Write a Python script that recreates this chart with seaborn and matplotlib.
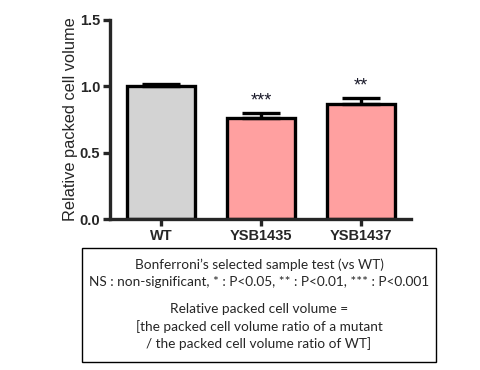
import pandas as pd
import matplotlib
matplotlib.use("Agg")
import matplotlib.pyplot as plt
import matplotlib.patches as mpatches
import seaborn as sns

# data
strains = ["WT", "YSB1435", "YSB1437"]
values = [1.00, 0.76, 0.87]
errors = [0.02, 0.04, 0.04]
stars = ["", "***", "**"]
bar_colors = ["#D3D3D3", "#FFA0A0", "#FFA0A0"]

sns.set_style("ticks")
plt.rcParams["font.family"] = ["Liberation Sans", "DejaVu Sans"]

df = pd.DataFrame({"Strain": strains, "Value": values})

fig = plt.figure(figsize=(4.8, 3.7), dpi=100)
ax = fig.add_axes([0.229, 0.408, 0.627, 0.538])

sns.barplot(data=df, x="Strain", y="Value", hue="Strain", palette=bar_colors,
            saturation=1, width=0.68, edgecolor="black", linewidth=2.4,
            errorbar=None, legend=False, ax=ax)

# upper error bars only
ax.errorbar(range(len(strains)), values, yerr=[[0] * len(errors), errors],
            fmt="none", ecolor="black", elinewidth=2.4, capsize=13.5,
            capthick=2.4, zorder=3)

# significance marks
for i, (v, e, s) in enumerate(zip(values, errors, stars)):
    if s:
        ax.text(i, v + e + 0.025, s, ha="center", va="bottom", fontsize=13,
                color="#1a1a2a")

ax.set_xlim(-0.51, 2.5)
ax.set_ylim(0, 1.5)
ax.set_yticks([0.0, 0.5, 1.0, 1.5])
ax.set_yticklabels(["0.0", "0.5", "1.0", "1.5"])
ax.set_xlabel("")
ax.set_ylabel("Relative packed cell volume", fontsize=11.8, labelpad=1)
for lab in ax.get_xticklabels() + ax.get_yticklabels():
    lab.set_fontweight("bold")
    lab.set_fontsize(10.5)
ax.tick_params(width=2.4, length=5, direction="out", pad=2)
sns.despine(ax=ax)
for sp in ["left", "bottom"]:
    ax.spines[sp].set_linewidth(2.4)

# note box below the chart
box = mpatches.Rectangle((82 / 480, 1 - 362 / 370), (436 - 82) / 480,
                         (362 - 248) / 370, transform=fig.transFigure,
                         fill=False, edgecolor="black", linewidth=1)
fig.patches.append(box)

note_lines = [
    ("Bonferroni\u2019s selected sample test (vs WT)", 265),
    ("NS : non-significant, * : P<0.05, ** : P<0.01, *** : P<0.001", 282),
    ("Relative packed cell volume =", 309),
    ("[the packed cell volume ratio of a mutant", 327),
    ("/ the packed cell volume ratio of WT]", 344),
]
for txt, ypix in note_lines:
    fig.text(259 / 480, 1 - ypix / 370, txt, ha="center", va="center",
             fontsize=9.8, family=["Lato", "DejaVu Sans"])

fig.savefig("out.png", dpi=100)
